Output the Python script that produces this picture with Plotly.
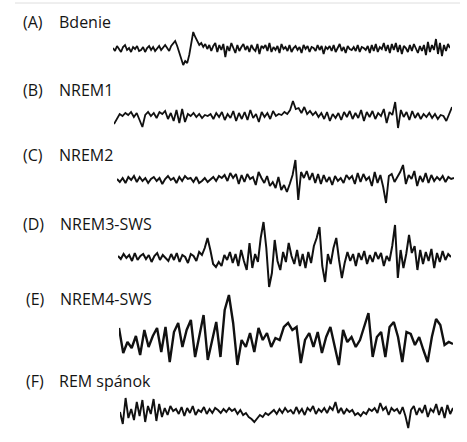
import numpy as np
import plotly.graph_objects as go

W, H = 467, 442

labels = ["(A)", "(B)", "(C)", "(D)", "(E)", "(F)"]
stages = ["Bdenie", "NREM1", "NREM2", "NREM3-SWS", "NREM4-SWS", "REM spánok"]

bdenie = [1,-2,3,0,-3,2,4,-1,1,-3,2,0,3,-2,-1,2,-3,1,3,-1,2,-2,0,3,-1,2,4,1,-2,3,5,
          8,3,-3,-10,-16,-12,-14,-6,6,17,12,7,4,6,2,
          5,0,4,-2,3,6,-3,4,-1,5,-8,3,-2,6,1,-4,4,-2,2,5,-1,3,-3,4,0,-2,5,-5,3,1,4,-2,6,-3,2,
          -1,3,-4,5,0,2,-2,4,-3,1,3,-1,2,-4,4,0,3,-3,2,1,-2,4,-1,3,-5,2,0,3,-2,4,-3,1,5,-2,2,-4,3,0,-1,2,
          -2,4,-3,2,1,-1,3,-4,4,-2,5,-3,2,0,6,-2,4,-4,5,-1,6,-3,4,-5,3,1,-3,4,-2,5,0,-4,3,-2,4,-6,7,-3,4,-1,10,-5,6,-7,4,-2,5,1]

nrem1 = [-7,-2,3,1,4,2,5,0,4,-3,-10,2,5,1,4,-1,5,3,6,-2,
         4,-4,7,-6,8,-5,3,1,4,0,3,-1,2,1,3,-2,4,0,5,-3,
         3,-1,6,-4,4,-2,5,-3,7,-1,3,-5,5,0,4,-2,6,1,3,2,
         5,3,7,16,8,9,4,10,3,6,2,5,0,4,-2,5,-4,3,-1,4,
         -3,5,0,6,-2,4,-1,7,-4,5,0,6,-2,4,1,8,-6,5,2,15,
         -11,7,0,5,-3,6,-1,4,-2,3,0,4,-1,3,-2,2,1,-4,3,10]

nrem2 = [1,-2,2,-3,3,0,4,-2,3,-1,2,-3,1,3,-1,2,-4,1,4,0,
         2,-3,3,-1,4,1,2,-2,3,-3,-1,2,-2,1,3,-1,4,2,5,-1,
         7,2,6,-4,5,-2,6,1,3,-5,8,2,-3,4,-6,-2,-8,3,-10,-5,
         -12,-4,5,20,-20,8,2,9,0,7,-3,6,-4,5,-2,3,-5,4,-1,2,
         -3,5,1,4,-4,7,-2,6,0,3,-6,8,-3,5,-7,-23,4,6,-2,3,
         8,15,-4,5,1,9,-6,4,-2,7,-3,5,-1,3,0,4,-2,3,1,2]

nrem3 = [2,-1,4,0,3,-3,5,-2,2,4,-1,3,-4,2,5,-2,3,0,-3,4,
         -2,5,-4,3,1,-5,4,2,-3,6,
         3,10,20,8,-6,-9,-4,-8,3,-2,
         6,-5,4,-8,8,-3,-12,15,-10,4,
         -4,20,36,10,-29,-15,18,-3,-12,6,
         -4,15,2,-6,8,-8,4,-10,6,-5,
         12,20,31,-8,-24,4,-6,10,20,-2,
         -20,-5,6,-3,4,-8,5,-2,7,-6,
         3,-4,6,-1,5,-8,2,-3,12,33,
         -20,8,-10,4,23,5,12,-12,8,-6,
         6,-3,9,-10,5,-4,7,-2,4,1]

nrem4 = [10,-15,-4,-10,2,-17,8,-9,2,10,-14,11,-24,6,15,-9,8,18,-19,4,
         23,-22,-4,16,-19,28,43,15,-27,-2,-9,5,-14,10,-2,5,-9,0,
         -2,11,15,8,11,-25,-2,5,-9,6,-15,1,11,-9,-27,8,-4,1,-9,-2,
         11,25,-19,1,6,-19,11,16,1,-24,6,4,-7,1,-12,-24,1,19,13,-7,-4,-6]

rem = [0,-12,14,-6,3,-8,10,-4,12,-10,6,-2,13,-9,8,-5,4,-3,6,1,
       3,-2,5,-4,4,-1,6,-3,2,0,5,-2,3,-1,4,2,-1,3,0,4,
       1,3,-2,2,-3,-1,-5,-7,-10,-6,-3,-5,-1,-3,0,2,-2,3,-1,4,
       0,2,-2,5,-1,3,-3,4,1,6,-2,3,0,4,-1,5,2,10,-1,4,
       -2,3,0,2,-3,-1,-4,0,-2,3,1,4,-1,9,2,5,-3,4,1,3,
       -2,5,-4,-16,2,6,-3,4,-1,7,-5,3,0,8,-3,5,-6,7,-2,4]

series = [bdenie, nrem1, nrem2, nrem3, nrem4, rem]

# layout geometry (pixels)
x_start = [113, 114, 117, 118, 119, 120]
x_end = [450, 452, 454, 451, 453, 453]
centers = [49, 117, 180, 258, 338, 412]
half = [30, 25, 28, 42, 46, 25]
widths = [1.8, 1.8, 1.9, 2.0, 2.4, 1.9]
lab_y = [22, 90, 155, 224, 299, 381]
lab_x = [21, 21, 21, 21, 24, 24]
name_x = [57, 57, 57, 58, 58, 57]

fig = go.Figure()
layout = dict(width=W, height=H, margin=dict(l=0, r=0, t=0, b=0),
              paper_bgcolor="white", plot_bgcolor="rgba(0,0,0,0)",
              showlegend=False, annotations=[], shapes=[])

for k, vals in enumerate(series):
    sfx = "" if k == 0 else str(k + 1)
    n = len(vals)
    fig.add_trace(go.Scatter(x=np.linspace(0, 1, n), y=vals, mode="lines",
                             line=dict(color="#111111", width=widths[k]),
                             xaxis="x" + sfx, yaxis="y" + sfx, hoverinfo="skip"))
    c, h = centers[k], half[k]
    layout["xaxis" + sfx] = dict(domain=[x_start[k] / W, x_end[k] / W], range=[0, 1],
                                 visible=False, fixedrange=True,
                                 anchor="y" + sfx)
    layout["yaxis" + sfx] = dict(domain=[1 - (c + h) / H, 1 - (c - h) / H], range=[-h, h],
                                 visible=False, fixedrange=True,
                                 anchor="x" + sfx)
    for txt, xx in ((labels[k], lab_x[k]), (stages[k], name_x[k])):
        layout["annotations"].append(dict(text=txt, x=xx / W, y=1 - lab_y[k] / H,
                                          xref="paper", yref="paper",
                                          xanchor="left", yanchor="middle",
                                          showarrow=False,
                                          font=dict(family="Open Sans", size=16, color="#141414")))

layout["shapes"].append(dict(type="line", xref="paper", yref="paper",
                             x0=15 / W, x1=460 / W, y0=1 - 3 / H, y1=1 - 3 / H,
                             line=dict(color="#dedede", width=1)))

fig.update_layout(**layout)
fig.write_html("out.html", config={"displayModeBar": False},
               post_script="document.body.style.margin='0';")
